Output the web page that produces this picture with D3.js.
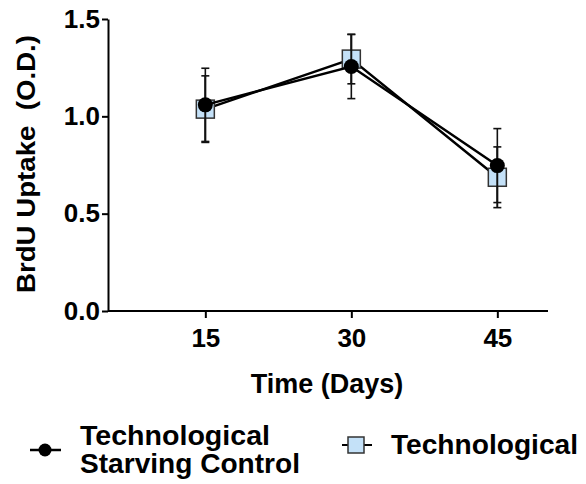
<!DOCTYPE html>
<html>
<head>
<meta charset="utf-8">
<script src="https://cdn.jsdelivr.net/npm/d3@7"></script>
<style>
  body { margin: 0; background: #fff; }
  text { font-family: "Liberation Sans", Arial, sans-serif; font-weight: bold; fill: #000; }
</style>
</head>
<body>
<script>
// data
var days = [15, 30, 45];
var controlMean = [1.059, 1.256, 0.747];
var controlErr = [0.188, 0.165, 0.19];
var techMean = [1.037, 1.294, 0.687];
var techErr = [0.171, 0.127, 0.156];
var yTicks = [0, 0.5, 1.0, 1.5];

var width = 586, height = 484;

var svg = d3.select("body").append("svg")
  .attr("width", width)
  .attr("height", height);

var x = d3.scaleLinear().domain([5, 50]).range([108, 546]);
var y = d3.scaleLinear().domain([0, 1.5]).range([311, 19]);

// axes
var xAxis = svg.append("g")
  .attr("transform", "translate(0," + y(0) + ")")
  .call(d3.axisBottom(x).tickValues(days).tickSize(7).tickSizeOuter(0).tickFormat(d3.format("d")));
xAxis.select(".domain").attr("d", "M" + x(5) + ",0H548");
xAxis.selectAll("text").attr("y", 18).attr("dy", "0.71em").style("font-size", "26px");

var yAxis = svg.append("g")
  .attr("transform", "translate(" + x(5) + ",0)")
  .call(d3.axisLeft(y).tickValues(yTicks).tickSize(6).tickSizeOuter(0).tickFormat(d3.format(".1f")));
yAxis.selectAll("text").attr("x", -8).style("font-size", "26px");

svg.selectAll(".domain, .tick line").attr("stroke", "#000").attr("stroke-width", 2);

// axis titles
svg.append("text")
  .attr("x", 327).attr("y", 393)
  .attr("text-anchor", "middle")
  .style("font-size", "27px")
  .text("Time (Days)");

svg.append("text")
  .attr("transform", "translate(35,164) rotate(-90)")
  .attr("text-anchor", "middle")
  .style("font-size", "25px")
  .style("white-space", "pre")
  .attr("textLength", 258)
  .attr("lengthAdjust", "spacingAndGlyphs")
  .text("BrdU Uptake  (O.D.)");

var line = d3.line().x(function(d) { return x(d[0]); }).y(function(d) { return y(d[1]); });

function drawSeries(means, errs) {
  var pts = days.map(function(d, i) { return [d, means[i], errs[i]]; });
  svg.append("path")
    .attr("d", line(pts))
    .attr("fill", "none")
    .attr("stroke", "#000")
    .attr("stroke-width", 2.5);
  var eb = svg.append("g").attr("stroke", "#111").attr("stroke-width", 1.6);
  pts.forEach(function(p) {
    var cx = x(p[0]);
    eb.append("line").attr("x1", cx).attr("x2", cx).attr("y1", y(p[1] - p[2])).attr("y2", y(p[1] + p[2]));
    eb.append("line").attr("x1", cx - 4).attr("x2", cx + 4).attr("y1", y(p[1] - p[2])).attr("y2", y(p[1] - p[2]));
    eb.append("line").attr("x1", cx - 4).attr("x2", cx + 4).attr("y1", y(p[1] + p[2])).attr("y2", y(p[1] + p[2]));
  });
  return pts;
}

// technological (squares) drawn first, control circles on top
var techPts = drawSeries(techMean, techErr);
svg.selectAll(".sq").data(techPts).enter().append("rect")
  .attr("x", function(d) { return x(d[0]) - 9; })
  .attr("y", function(d) { return y(d[1]) - 9; })
  .attr("width", 18).attr("height", 18)
  .attr("fill", "#c4e1f8").attr("stroke", "#333").attr("stroke-width", 1.5);
svg.selectAll(".tsq").data(techPts).enter().append("line")
  .attr("x1", function(d) { return x(d[0]); }).attr("x2", function(d) { return x(d[0]); })
  .attr("y1", function(d) { return y(d[1] - d[2]); }).attr("y2", function(d) { return y(d[1] + d[2]); })
  .attr("stroke", "#111").attr("stroke-width", 1.6);

var ctrlPts = drawSeries(controlMean, controlErr);
svg.selectAll(".ci").data(ctrlPts).enter().append("circle")
  .attr("cx", function(d) { return x(d[0]); })
  .attr("cy", function(d) { return y(d[1]); })
  .attr("r", 7.5).attr("fill", "#000");

// legend
var lg = svg.append("g");
lg.append("line").attr("x1", 30).attr("x2", 61).attr("y1", 450).attr("y2", 450).attr("stroke", "#000").attr("stroke-width", 2.5);
lg.append("circle").attr("cx", 45).attr("cy", 450).attr("r", 6.5).attr("fill", "#000");
lg.append("text").attr("x", 80).attr("y", 445).style("font-size", "27px")
  .attr("textLength", 190).attr("lengthAdjust", "spacingAndGlyphs").text("Technological");
lg.append("text").attr("x", 80).attr("y", 473).style("font-size", "27px")
  .attr("textLength", 220).attr("lengthAdjust", "spacingAndGlyphs").text("Starving Control");

lg.append("line").attr("x1", 342).attr("x2", 372).attr("y1", 445).attr("y2", 445).attr("stroke", "#000").attr("stroke-width", 2);
lg.append("rect").attr("x", 348).attr("y", 437).attr("width", 16).attr("height", 16)
  .attr("fill", "#c4e1f8").attr("stroke", "#333").attr("stroke-width", 1.5);
lg.append("text").attr("x", 391).attr("y", 454).style("font-size", "27px")
  .attr("textLength", 187).attr("lengthAdjust", "spacingAndGlyphs").text("Technological");
</script>
</body>
</html>
